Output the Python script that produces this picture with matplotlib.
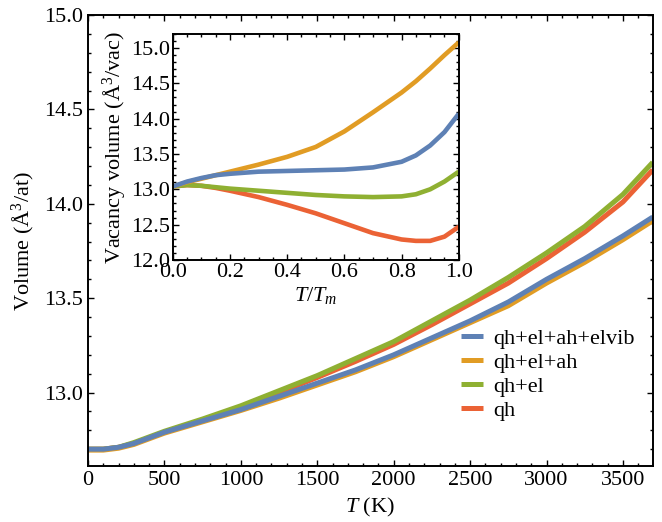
import matplotlib
matplotlib.use("Agg")
import matplotlib.pyplot as plt
from matplotlib.ticker import MultipleLocator

plt.rcParams['font.family'] = ['Liberation Serif', 'DejaVu Serif']
plt.rcParams['mathtext.fontset'] = 'custom'
plt.rcParams['mathtext.rm'] = 'Liberation Serif'
plt.rcParams['mathtext.it'] = 'Liberation Serif:italic'

# main panel: volume vs temperature
T = [0, 100, 200, 300, 500, 750, 1000, 1250, 1500, 1750, 2000, 2250, 2500, 2750, 3000, 3250, 3500, 3695]
v_full = [12.70, 12.70, 12.71, 12.73, 12.79, 12.85, 12.91, 12.98, 13.05, 13.12, 13.20, 13.29, 13.38, 13.48, 13.60, 13.71, 13.83, 13.93]
v_ah = [12.695, 12.695, 12.705, 12.725, 12.785, 12.845, 12.905, 12.97, 13.04, 13.11, 13.19, 13.28, 13.37, 13.46, 13.58, 13.69, 13.81, 13.91]
v_el = [12.70, 12.70, 12.71, 12.735, 12.795, 12.86, 12.93, 13.01, 13.09, 13.18, 13.27, 13.38, 13.49, 13.61, 13.74, 13.88, 14.05, 14.22]
v_qh = [12.70, 12.70, 12.71, 12.73, 12.79, 12.855, 12.92, 13.00, 13.08, 13.165, 13.255, 13.36, 13.47, 13.58, 13.71, 13.85, 14.01, 14.18]

# inset: vacancy volume vs T/Tm
t_rel = [0, 0.05, 0.1, 0.15, 0.2, 0.3, 0.4, 0.5, 0.6, 0.7, 0.8, 0.85, 0.9, 0.95, 1.0]
vac_full = [13.04, 13.11, 13.16, 13.20, 13.22, 13.25, 13.26, 13.27, 13.28, 13.31, 13.39, 13.48, 13.62, 13.81, 14.07]
vac_ah = [13.04, 13.10, 13.15, 13.20, 13.25, 13.35, 13.46, 13.60, 13.82, 14.09, 14.37, 14.53, 14.71, 14.90, 15.08]
vac_el = [13.04, 13.06, 13.05, 13.03, 13.01, 12.98, 12.95, 12.92, 12.90, 12.89, 12.90, 12.93, 13.00, 13.11, 13.25]
vac_qh = [13.04, 13.06, 13.05, 13.02, 12.98, 12.89, 12.78, 12.66, 12.52, 12.38, 12.29, 12.27, 12.27, 12.33, 12.47]

labels = ["qh+el+ah+elvib", "qh+el+ah", "qh+el", "qh"]
colors = ["#5E81B5", "#E19C24", "#8FB032", "#EB6235"]


def style(ax):
    ax.tick_params(which='both', direction='in', top=True, right=True, labelsize=16, width=1.0)
    ax.tick_params(which='major', length=4.5)
    ax.tick_params(which='minor', length=2.5)
    for s in ax.spines.values():
        s.set_linewidth(1.4)


fig = plt.figure(figsize=(6.62, 5.22), dpi=100)
ax = fig.add_axes([0.133, 0.107, 0.853, 0.864])

series = [v_full, v_ah, v_el, v_qh]
for i in [3, 2, 1, 0]:
    ax.plot(T, series[i], color=colors[i], lw=3.6, label=labels[i],
            solid_capstyle='butt', solid_joinstyle='round')
ax.set_xlim(0, 3695)
ax.set_ylim(12.61, 15.0)
ax.xaxis.set_major_locator(MultipleLocator(500))
ax.xaxis.set_minor_locator(MultipleLocator(100))
ax.yaxis.set_major_locator(MultipleLocator(0.5))
ax.yaxis.set_minor_locator(MultipleLocator(0.1))
ax.yaxis.set_major_formatter(matplotlib.ticker.FormatStrFormatter('%.1f'))
style(ax)
ax.set_xlabel(r"$T$ (K)", fontsize=16, labelpad=4)
ax.set_ylabel(r"Volume (Å$^3$/at)", fontsize=16, labelpad=5)

h, l = ax.get_legend_handles_labels()
order = [3, 2, 1, 0]
ax.legend([h[k] for k in order], [l[k] for k in order], loc='upper left',
          bbox_to_anchor=(0.66, 0.305), frameon=False, fontsize=16,
          handlelength=1.0, handletextpad=0.45, labelspacing=0.15,
          borderpad=0, borderaxespad=0)

ins = fig.add_axes([0.261, 0.502, 0.432, 0.433])
vac = [vac_full, vac_ah, vac_el, vac_qh]
for i in [3, 2, 1, 0]:
    ins.plot(t_rel, vac[i], color=colors[i], lw=3.3,
             solid_capstyle='butt', solid_joinstyle='round')
ins.set_xlim(0, 1.0)
ins.set_ylim(12.0, 15.2)
ins.xaxis.set_major_locator(MultipleLocator(0.2))
ins.xaxis.set_minor_locator(MultipleLocator(0.05))
ins.yaxis.set_major_locator(MultipleLocator(0.5))
ins.yaxis.set_minor_locator(MultipleLocator(0.1))
ins.xaxis.set_major_formatter(matplotlib.ticker.FormatStrFormatter('%.1f'))
ins.yaxis.set_major_formatter(matplotlib.ticker.FormatStrFormatter('%.1f'))
style(ins)
ins.tick_params(axis='x', pad=2)
ins.tick_params(axis='y', pad=2)
ins.set_xlabel(r"$T/T_m$", fontsize=16, labelpad=2)
ins.set_ylabel(r"Vacancy volume (Å$^3$/vac)", fontsize=16, labelpad=2)

fig.savefig("out.png", dpi=100)
